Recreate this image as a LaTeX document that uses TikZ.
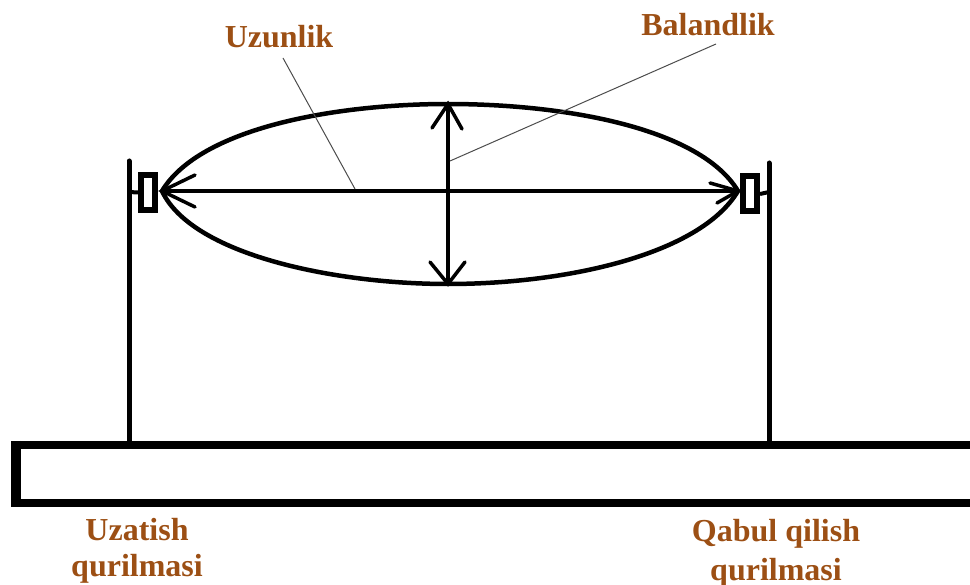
\documentclass[tikz,border=0pt]{standalone}
\usepackage{fontspec}
\setmainfont{Liberation Serif}
\definecolor{labelbrown}{HTML}{9C4F14}
\tikzset{
  lbl/.style={font=\fontsize{32}{35}\selectfont\bfseries, text=labelbrown, inner sep=0pt, align=center},
  post/.style={line width=5pt, line cap=round},
  lobe/.style={line width=4.5pt},
  axis/.style={line width=3.5pt},
  leader/.style={line width=1pt, draw=black!70},
  barb/.style={line width=3.5pt, line cap=round},
  emitter/.style={draw, line width=6pt, minimum width=14pt, minimum height=35pt, inner sep=0pt, fill=white}
}
\begin{document}
\begin{tikzpicture}[x=1pt,y=-1pt]
\useasboundingbox (0,0) rectangle (970,585);
\clip (0,0) rectangle (970,585);
% base
\draw[line width=8pt] (990,445) -- (12,445);
\draw[line width=10pt] (16,441) -- (16,507);
\draw[line width=8pt] (12,503) -- (990,503);
% posts
\coordinate (ltop) at (129,161);
\coordinate (lbot) at (129,445);
\coordinate (rtop) at (769,163);
\coordinate (rbot) at (769,445);
\draw[post] (ltop) -- (lbot);
\draw[post] (rtop) -- (rbot);
% emitters
\node[emitter] (tx) at (148,192.5) {};
\node[emitter] (rx) at (750,194) {};
\draw[line width=4pt] (129,192) -- (tx.west);
\draw[line width=4pt] (rx.east) -- (769,192);
% lobe
\coordinate (L) at (162,191);
\coordinate (R) at (738,191);
\coordinate (T) at (448,104);
\coordinate (B) at (448,284);
\coordinate (C) at (448,191);
\draw[lobe] (L) .. controls (200,128) and (335,104) .. (T) .. controls (565,104) and (700,128) .. (R);
\draw[lobe] (L) .. controls (192,255) and (335,284) .. (B) .. controls (565,284) and (700,255) .. (R);
% axes
\draw[axis] (L) -- (R);
\draw[axis] (T) -- (B);
% arrow barbs
\draw[barb] (195,175) -- (L) -- (195,207);
\draw[barb] (710,183) -- (R) -- (717,203);
\draw[barb] (432,128) -- (T) -- (462,129);
\draw[barb] (430,262) -- (B) -- (465,262);
% labels
\node[lbl] (uzun) at (279,37) {Uzunlik};
\node[lbl] (bal) at (708,25) {Balandlik};
\node[lbl] (tx1) at (137,530) {Uzatish};
\node[lbl] (tx2) at (137,569) {qurilmasi};
\node[lbl] (rx1) at (776,534) {Qabul qilish};
\node[lbl] (rx2) at (776,573) {qurilmasi};
% leaders
\coordinate (ua) at (355,189);
\coordinate (ba) at (450,161);
\draw[leader] (283,58) -- (ua);
\draw[leader] (716,44) -- (ba);
\end{tikzpicture}
\end{document}
